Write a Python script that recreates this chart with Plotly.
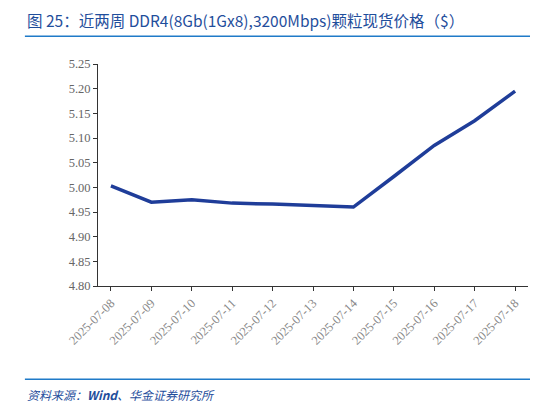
import plotly.graph_objects as go

dates = ["2025-07-08","2025-07-09","2025-07-10","2025-07-11","2025-07-12","2025-07-13",
         "2025-07-14","2025-07-15","2025-07-16","2025-07-17","2025-07-18"]
prices = [5.003, 4.970, 4.975, 4.968, 4.966, 4.963, 4.960, 5.022, 5.085, 5.135, 5.195]
yticks = [4.80, 4.85, 4.90, 4.95, 5.00, 5.05, 5.10, 5.15, 5.20, 5.25]

fig = go.Figure(go.Scatter(x=list(range(len(dates))), y=prices, mode="lines",
                           line=dict(color="#1f3d99", width=3.5)))
fig.update_layout(
    width=538, height=401, margin=dict(l=90, r=18, t=56, b=123, autoexpand=False),
    paper_bgcolor="white", plot_bgcolor="white", showlegend=False,
    font=dict(family="Liberation Serif", color="#666666", size=12),
    xaxis=dict(range=[-0.32, 10.32], tickvals=list(range(len(dates))), ticktext=dates,
               tickangle=-45, showline=True, linecolor="#333333", linewidth=1, automargin=False,
               ticks="outside", ticklen=4, tickcolor="#333333", showgrid=False,
               tickfont=dict(family="Liberation Serif", size=12.5, color="#888888")),
    yaxis=dict(range=[4.80, 5.25], tickvals=yticks, ticktext=[f"{v:.2f}" for v in yticks],
               showline=True, linecolor="#333333", linewidth=1, ticks="outside", automargin=False,
               ticklen=4, tickcolor="#333333", showgrid=False, zeroline=False,
               tickfont=dict(family="Liberation Serif", size=12.5, color="#666666")),
    shapes=[
        dict(type="line", xref="paper", yref="paper", x0=-0.17, x1=1.04, y0=1.125, y1=1.125,
             line=dict(color="#1f7ac8", width=1.5)),
        dict(type="line", xref="paper", yref="paper", x0=-0.17, x1=1.04, y0=-0.42, y1=-0.42,
             line=dict(color="#1f7ac8", width=1.5)),
    ],
    annotations=[
        dict(text="图 25：近两周 DDR4(8Gb(1Gx8),3200Mbps)颗粒现货价格（$）", xref="paper", yref="paper",
             x=-0.17, y=1.14, xanchor="left", yanchor="bottom", showarrow=False,
             font=dict(family="Noto Sans CJK SC", size=15.5, color="#1f4e9c")),
        dict(text="<i>资料来源：<b>Wind</b>、华金证券研究所</i>", xref="paper", yref="paper",
             x=-0.17, y=-0.44, xanchor="left", yanchor="top", showarrow=False,
             font=dict(family="Noto Sans CJK SC", size=12, color="#1f4e9c")),
    ],
)
fig.write_html("out.html")
